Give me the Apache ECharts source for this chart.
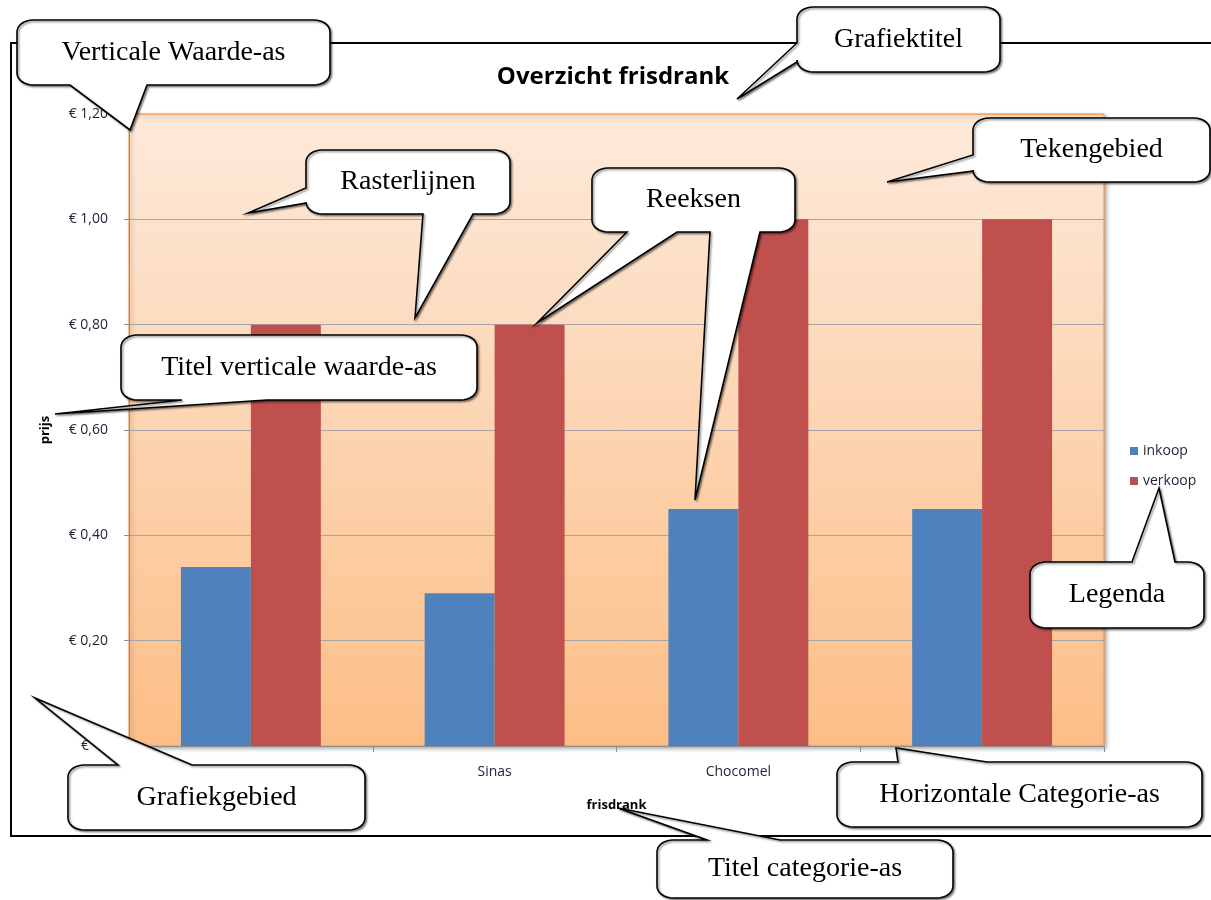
<!DOCTYPE html>
<html><head><meta charset="utf-8">
<script src="https://cdn.jsdelivr.net/npm/echarts@6/dist/echarts.min.js"></script>
<style>html,body{margin:0;padding:0;background:#fff}#c{width:1211px;height:900px}</style>
</head><body><div id="c"></div>
<script>
// ---- data ----
const categories = ['Cola', 'Sinas', 'Chocomel', 'Fristi'];
const inkoop = [0.34, 0.29, 0.45, 0.45];
const verkoop = [0.80, 0.80, 1.00, 1.00];
const seriesNames = ['inkoop', 'verkoop'];
const yTickLabels = ['€ -   ', '€ 0,20', '€ 0,40', '€ 0,60', '€ 0,80', '€ 1,00', '€ 1,20'];
const chartTitle = 'Overzicht frisdrank';
const xTitle = 'frisdrank';
const yTitle = 'prijs';

// ---- annotation callouts (document overlay) ----
const callouts = [
  {text:'Verticale Waarde-as', box:[17,20,313,65], tails:[{edge:'bottom', a:70, b:147, tip:[130,130]}]},
  {text:'Grafiektitel', box:[797,7,203,65], tails:[{edge:'left', a:43, b:62, tip:[737,99]}]},
  {text:'Tekengebied', box:[973,118,237,64], tails:[{edge:'left', a:155, b:171, tip:[887,182]}]},
  {text:'Rasterlijnen', box:[306,150,204,64], tails:[{edge:'left', a:188, b:203, tip:[248,213]}, {edge:'bottom', a:423, b:473, tip:[415,318]}]},
  {text:'Reeksen', box:[592,168,203,64], tails:[{edge:'bottom', a:627, b:677, tip:[537,323]}, {edge:'bottom', a:710, b:760, tip:[695,500]}]},
  {text:'Titel verticale waarde-as', box:[121,335,356,65], tails:[{edge:'bottom', a:182, b:267, tip:[55,414]}]},
  {text:'Legenda', box:[1030,562,174,66], tails:[{edge:'top', a:1132, b:1175, tip:[1159,488]}]},
  {text:'Grafiekgebied', box:[68,765,297,65], tails:[{edge:'top', a:118, b:192, tip:[35,698]}]},
  {text:'Horizontale Categorie-as', box:[837,762,365,65], tails:[{edge:'top', a:898, b:987, tip:[896,748]}]},
  {text:'Titel categorie-as', box:[657,840,296,58], tails:[{edge:'top', a:707, b:780, tip:[618,808]}]}
];

function calloutPoints(c) {
  const [x, y, w, h] = c.box; const rx = 16, ry = 12; const pts = [];
  const arc = (cx, cy, a0, a1) => { for (let i = 0; i <= 8; i++) { const t = a0 + (a1 - a0) * i / 8; pts.push([cx + rx * Math.cos(t), cy + ry * Math.sin(t)]); } };
  const tails = e => c.tails.filter(t => t.edge === e);
  arc(x + rx, y + ry, Math.PI, 1.5 * Math.PI);
  tails('top').sort((p, q) => p.a - q.a).forEach(t => { pts.push([t.a, y], t.tip, [t.b, y]); });
  arc(x + w - rx, y + ry, 1.5 * Math.PI, 2 * Math.PI);
  tails('right').sort((p, q) => p.a - q.a).forEach(t => { pts.push([x + w, t.a], t.tip, [x + w, t.b]); });
  arc(x + w - rx, y + h - ry, 0, 0.5 * Math.PI);
  tails('bottom').sort((p, q) => q.a - p.a).forEach(t => { pts.push([t.b, y + h], t.tip, [t.a, y + h]); });
  arc(x + rx, y + h - ry, 0.5 * Math.PI, Math.PI);
  tails('left').sort((p, q) => q.a - p.a).forEach(t => { pts.push([x, t.b], t.tip, [x, t.a]); });
  return pts;
}

const graphics = [
  {type:'rect', silent:true, z:50, shape:{x:11, y:43, width:1230, height:793}, style:{fill:'none', stroke:'#000', lineWidth:2}}
];
callouts.forEach(c => {
  graphics.push({type:'polygon', silent:true, z:100, shape:{points:calloutPoints(c)},
    style:{fill:'#fff', stroke:'#000', lineWidth:1.6, shadowBlur:2, shadowOffsetX:1.5, shadowOffsetY:1.5, shadowColor:'rgba(0,0,0,0.45)'}});
  graphics.push({type:'text', silent:true, z:101,
    style:{text:c.text, x:c.box[0] + c.box[2] / 2, y:c.box[1] + c.box[3] / 2, align:'center', verticalAlign:'middle',
      fontSize:28, fontFamily:'Liberation Serif', fill:'#000'}});
});

const labelFont = 'Open Sans';
const labelColor = '#1c2136';
const chart = echarts.init(document.getElementById('c'), null, {renderer:'canvas'});
chart.setOption({
  animation:false,
  backgroundColor:'#fff',
  title:{text:chartTitle, left:613, top:65, padding:0, textAlign:'center',
    textStyle:{fontFamily:labelFont, fontWeight:'bold', fontSize:24, color:'#000'}},
  legend:{orient:'vertical', left:1130, top:444, padding:0, itemWidth:8, itemHeight:8, itemGap:16, icon:'rect',
    data:seriesNames, textStyle:{fontFamily:labelFont, fontSize:14, color:labelColor}},
  grid:{left:129, right:107, top:114, bottom:154, containLabel:false, outerBoundsMode:'none', show:true,
    backgroundColor:{type:'linear', x:0, y:0, x2:0, y2:1, colorStops:[{offset:0, color:'#FDEADB'}, {offset:1, color:'#FCBE86'}]},
    borderColor:'#F79646', borderWidth:1,
    shadowColor:'rgba(0,0,0,0.35)', shadowBlur:4, shadowOffsetX:2, shadowOffsetY:2},
  xAxis:{type:'category', data:categories, name:xTitle, nameLocation:'middle', nameGap:53,
    nameTextStyle:{fontFamily:labelFont, fontWeight:'bold', fontSize:13, color:'#000'},
    axisLine:{lineStyle:{color:'#8E8E8E', width:1}},
    axisTick:{show:true, length:6, lineStyle:{color:'#8E8E8E'}},
    axisLabel:{margin:19, fontFamily:labelFont, fontSize:14, color:labelColor},
    splitLine:{show:false}},
  yAxis:{type:'value', min:0, max:1.2, interval:0.2, name:yTitle, nameLocation:'middle', nameGap:77,
    nameTextStyle:{fontFamily:labelFont, fontWeight:'bold', fontSize:13, color:'#000'},
    axisLine:{show:true, lineStyle:{color:'#8E8E8E', width:1}},
    axisTick:{show:true, length:5, lineStyle:{color:'#8E8E8E'}},
    axisLabel:{margin:21, fontFamily:labelFont, fontSize:14, color:labelColor, formatter:(v, i) => yTickLabels[i]},
    splitLine:{show:true, lineStyle:{color:['#A5A5A5','#A5A5A5','#A5A5A5','#A5A5A5','#A5A5A5','#A5A5A5','#F8A25E'], width:1}}},
  series:[
    {name:seriesNames[0], type:'bar', data:inkoop, barGap:'0%', barCategoryGap:'42.6%', itemStyle:{color:'#4F81BD'}},
    {name:seriesNames[1], type:'bar', data:verkoop, barGap:'0%', barCategoryGap:'42.6%', itemStyle:{color:'#C0504D'}}
  ],
  graphic:{elements:graphics}
});
</script>
</body></html>
